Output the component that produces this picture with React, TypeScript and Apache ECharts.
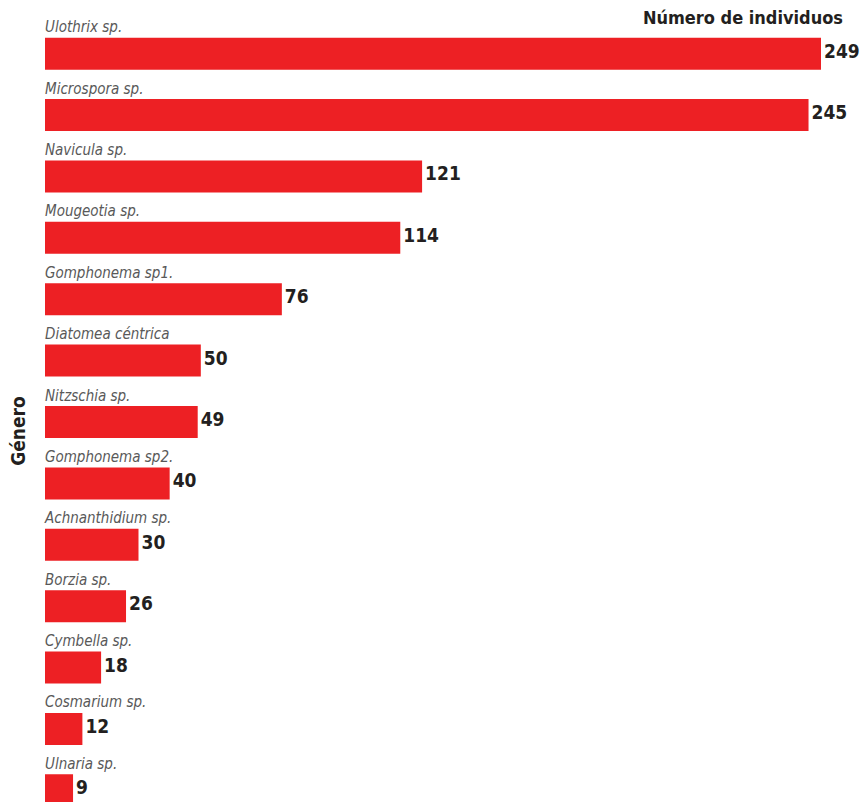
import React, { useEffect, useRef } from "react";
import * as echarts from "echarts";

const categories = [
  "Ulothrix sp.",
  "Microspora sp.",
  "Navicula sp.",
  "Mougeotia sp.",
  "Gomphonema sp1.",
  "Diatomea céntrica",
  "Nitzschia sp.",
  "Gomphonema sp2.",
  "Achnanthidium sp.",
  "Borzia sp.",
  "Cymbella sp.",
  "Cosmarium sp.",
  "Ulnaria sp.",
];
const values = [249, 245, 121, 114, 76, 50, 49, 40, 30, 26, 18, 12, 9];
const xTitle = "Número de individuos";
const yTitle = "Género";

const FONT = '"Liberation Sans Narrow", "DejaVu Sans Condensed", "Roboto Condensed", "Noto Sans", sans-serif';

export default function App() {
  const ref = useRef<HTMLDivElement>(null);
  useEffect(() => {
    if (!ref.current) return;
    const chart = echarts.init(ref.current, null, { renderer: "svg" });
    chart.setOption({
      animation: false,
      backgroundColor: "#ffffff",
      grid: { left: 45, top: 23, width: 776, height: 798, containLabel: false },
      xAxis: {
        type: "value",
        min: 0,
        max: 249,
        show: false,
      },
      yAxis: {
        type: "category",
        data: categories,
        inverse: true,
        axisLine: { show: false },
        axisTick: { show: false },
        axisLabel: {
          inside: true,
          margin: 0,
          align: "left",
          verticalAlign: "bottom",
          padding: [0, 0, 19, 0],
          color: "#595959",
          fontStyle: "italic",
          fontSize: 15,
          fontFamily: FONT,
        },
      },
      series: [
        {
          type: "bar",
          data: values,
          barWidth: 32,
          itemStyle: { color: "#ED2024" },
          label: {
            show: true,
            position: "right",
            distance: 3,
            offset: [0, -3],
            color: "#231F20",
            fontWeight: "bold",
            fontSize: 19,
            fontFamily: FONT,
          },
        },
      ],
      graphic: [
        {
          type: "text",
          right: 24,
          top: 8,
          style: {
            text: xTitle,
            fill: "#231F20",
            font: `bold 18px ${FONT}`,
          },
        },
        {
          type: "text",
          x: 18,
          y: 431,
          rotation: Math.PI / 2,
          style: {
            text: yTitle,
            fill: "#231F20",
            font: `bold 19px ${FONT}`,
            align: "center",
            verticalAlign: "middle",
          },
        },
      ],
    });
    return () => chart.dispose();
  }, []);
  return (
    <div
      ref={ref}
      style={{ position: "fixed", left: 0, top: 0, width: 867, height: 830 }}
    />
  );
}
